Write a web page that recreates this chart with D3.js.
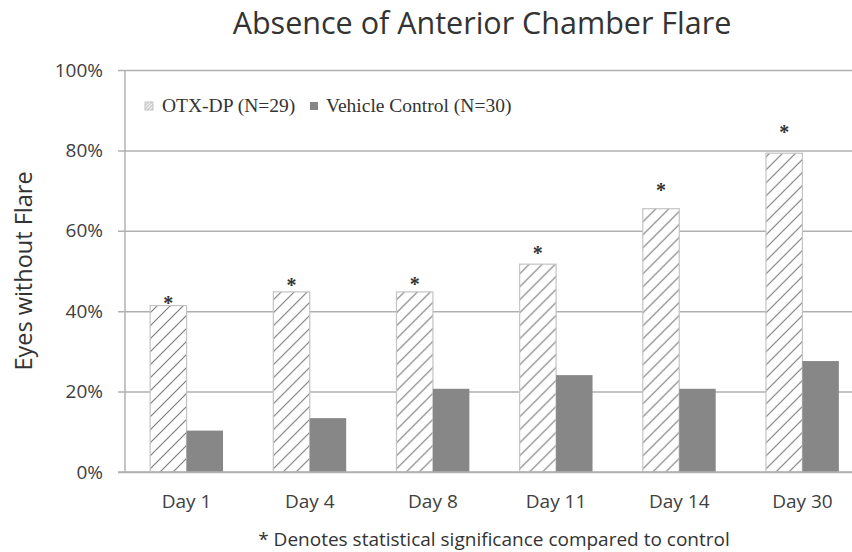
<!DOCTYPE html>
<html>
<head>
<meta charset="utf-8">
<script src="https://cdn.jsdelivr.net/npm/d3@7"></script>
<style>
  body { margin: 0; background: #fff; }
  svg { display: block; }
</style>
</head>
<body>
<div class="container"></div>
<script>
var days = ['Day 1', 'Day 4', 'Day 8', 'Day 11', 'Day 14', 'Day 30'];
var otxValues = [41.4, 44.8, 44.8, 51.7, 65.5, 79.3];
var vehicleValues = [10.3, 13.4, 20.7, 24.1, 20.7, 27.6];
// level (in %) where each significance asterisk sits
var asteriskLevels = [42.6, 47.1, 47.3, 55.0, 70.6, 85.1];
var yTicks = [0, 20, 40, 60, 80, 100];
var seriesNames = ['OTX-DP (N=29)', 'Vehicle Control (N=30)'];

var w = 852;
var h = 552;
var plotTop = 70, plotBottom = 472, plotLeft = 125, plotRight = 864;
var sans = '"Open Sans", sans-serif';
var serif = '"Liberation Serif", serif';

var svg = d3.select('.container')
  .append('svg')
  .attr('width', w)
  .attr('height', h);

/* hatch patterns for OTX-DP bars and legend swatch */
var defs = svg.append('defs');
function hatch(id, s, col) {
  var p = defs.append('pattern')
    .attr('id', id)
    .attr('patternUnits', 'userSpaceOnUse')
    .attr('width', s)
    .attr('height', s);
  p.append('rect').attr('width', s).attr('height', s).attr('fill', '#fff');
  p.append('path')
    .attr('d', 'M-1,1 L1,-1 M0,' + s + ' L' + s + ',0 M' + (s - 1) + ',' + (s + 1) + ' L' + (s + 1) + ',' + (s - 1))
    .attr('stroke', col)
    .attr('stroke-width', 1.1);
}
hatch('hatch', 13, '#7a7a7a');
hatch('hatchSmall', 3.5, '#b8b8b8');

var xScale = d3.scaleBand()
  .domain(days)
  .range([plotLeft, plotRight])
  .paddingInner(0)
  .paddingOuter(0);

var inner = d3.scaleBand()
  .domain([0, 1])
  .range([0, xScale.bandwidth()])
  .paddingOuter(0.69)
  .paddingInner(0);

var yScale = d3.scaleLinear()
  .domain([0, 100])
  .range([plotBottom, plotTop]);

/* gridlines + y axis */
var yAxis = d3.axisLeft(yScale)
  .tickValues(yTicks)
  .tickSize(-(plotRight - plotLeft))
  .tickPadding(22)
  .tickFormat(function(d) { return d + '%'; });

var yg = svg.append('g')
  .attr('transform', 'translate(' + plotLeft + ',0)')
  .call(yAxis);
yg.select('.domain').remove();
yg.selectAll('.tick line')
  .attr('x1', -7)
  .attr('stroke', '#b0b0b0')
  .attr('stroke-width', 1.5);
yg.selectAll('.tick text')
  .attr('font-family', sans)
  .attr('font-size', '19px')
  .attr('fill', '#404040');

svg.append('line')
  .attr('x1', plotLeft).attr('x2', plotLeft)
  .attr('y1', plotTop).attr('y2', plotBottom)
  .attr('stroke', '#b0b0b0')
  .attr('stroke-width', 1.5);

/* bars */
var group = svg.selectAll('g.day')
  .data(days)
  .enter()
  .append('g')
  .attr('class', 'day')
  .attr('transform', function(d) { return 'translate(' + xScale(d) + ',0)'; });

group.append('rect')
  .attr('x', inner(0))
  .attr('width', inner.bandwidth())
  .attr('y', function(d, i) { return yScale(otxValues[i]); })
  .attr('height', function(d, i) { return plotBottom - yScale(otxValues[i]); })
  .attr('fill', 'url(#hatch)')
  .attr('stroke', '#c4c4c4')
  .attr('stroke-width', 1.2);

group.append('rect')
  .attr('x', inner(1))
  .attr('width', inner.bandwidth())
  .attr('y', function(d, i) { return yScale(vehicleValues[i]); })
  .attr('height', function(d, i) { return plotBottom - yScale(vehicleValues[i]); })
  .attr('fill', '#878787');

group.append('text')
  .attr('x', inner(0) + inner.bandwidth() / 2)
  .attr('y', function(d, i) { return yScale(asteriskLevels[i]) + 9; })
  .attr('text-anchor', 'middle')
  .attr('font-family', serif)
  .attr('font-weight', 'bold')
  .attr('font-size', '20px')
  .attr('fill', '#333')
  .text('*');

/* redraw baseline over bars */
svg.append('line')
  .attr('x1', plotLeft - 7).attr('x2', plotRight)
  .attr('y1', plotBottom).attr('y2', plotBottom)
  .attr('stroke', '#b0b0b0')
  .attr('stroke-width', 1.5);

/* x axis labels */
var xAxis = d3.axisBottom(xScale).tickSize(0).tickPadding(23);
var xg = svg.append('g')
  .attr('transform', 'translate(0,' + plotBottom + ')')
  .call(xAxis);
xg.select('.domain').remove();
xg.selectAll('.tick text')
  .attr('font-family', sans)
  .attr('font-size', '19px')
  .attr('fill', '#404040');

/* title, axis label, footnote */
svg.append('text')
  .attr('x', 482).attr('y', 34)
  .attr('text-anchor', 'middle')
  .attr('font-family', sans)
  .attr('font-size', '30.5px')
  .attr('fill', '#333')
  .text('Absence of Anterior Chamber Flare');

svg.append('text')
  .attr('transform', 'translate(32,271) rotate(-90)')
  .attr('text-anchor', 'middle')
  .attr('font-family', sans)
  .attr('font-size', '23.5px')
  .attr('fill', '#333')
  .text('Eyes without Flare');

svg.append('text')
  .attr('x', 494).attr('y', 546)
  .attr('text-anchor', 'middle')
  .attr('font-family', sans)
  .attr('font-size', '19px')
  .attr('fill', '#333')
  .text('* Denotes statistical significance compared to control');

/* legend */
var legend = svg.append('g').attr('transform', 'translate(145,102)');
legend.append('rect').attr('width', 8).attr('height', 8)
  .attr('fill', 'url(#hatchSmall)').attr('stroke', '#c4c4c4');
legend.append('text').attr('x', 17).attr('y', 10)
  .attr('font-family', serif)
  .attr('font-size', '19.5px').attr('fill', '#333')
  .text(seriesNames[0]);
legend.append('rect').attr('x', 165).attr('width', 8).attr('height', 8)
  .attr('fill', '#878787');
legend.append('text').attr('x', 181).attr('y', 10)
  .attr('font-family', serif)
  .attr('font-size', '19.5px').attr('fill', '#333')
  .text(seriesNames[1]);
</script>
</body>
</html>
